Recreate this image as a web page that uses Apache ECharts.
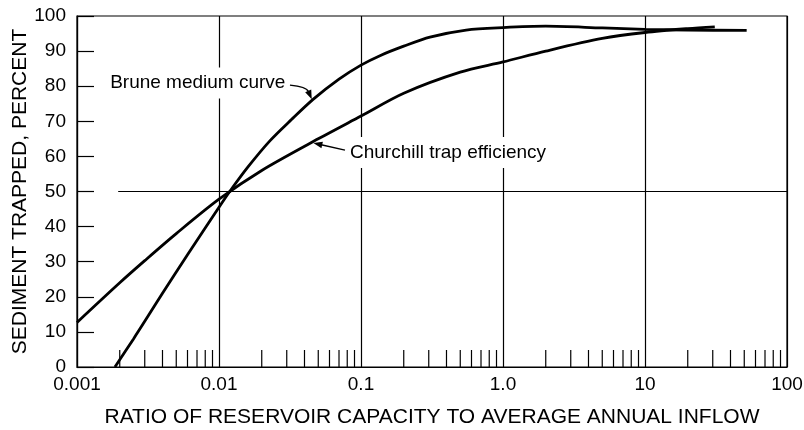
<!DOCTYPE html>
<html>
<head>
<meta charset="utf-8">
<script src="https://cdn.jsdelivr.net/npm/echarts@6/dist/echarts.min.js"></script>
<style>html,body{margin:0;padding:0;background:#fff;}#c{width:804px;height:430px;}</style>
</head>
<body>
<div id="c"></div>
<script>
// ---- data ----
const bruneX = [0.00185, 0.0025, 0.003, 0.004, 0.006, 0.01, 0.0119, 0.016, 0.0229, 0.0324, 0.0462, 0.07, 0.1, 0.136, 0.2, 0.306, 0.55, 1.0, 2.0, 5, 10, 20, 52];
const bruneY = [0, 8.0, 13.0, 21.0, 32.0, 45.5, 50, 57.0, 64.5, 70.5, 76.3, 82.0, 86.0, 88.7, 91.4, 94.0, 96.0, 96.7, 97.1, 96.6, 96.2, 96.0, 95.9];
const churchX = [0.001, 0.002, 0.003, 0.005, 0.01, 0.02, 0.05, 0.1, 0.2, 0.5, 1.0, 2, 5, 10, 20, 31];
const churchY = [12.7, 24.0, 30.3, 38.0, 47.8, 56.0, 65.0, 71.5, 78.0, 84.0, 86.9, 90.0, 93.6, 95.3, 96.4, 96.9];
const xTickLabels = ['0.001', '0.01', '0.1', '1.0', '10', '100'];
const decades = [0.001, 0.01, 0.1, 1, 10];
const minorMultipliers = [2, 3, 4, 5, 6, 7, 8, 9];
const refLine50 = [[0.00195, 50], [100, 50]];
const bruneLabel = { text: 'Brune medium curve', at: [0.00163, 80.9] };
const churchLabel = { text: 'Churchill trap efficiency', at: [0.0797, 61.1] };
// arrows: [fromX, fromY, toX, toY, bend]
const arrows = [
  [0.0316, 80.3, 0.045, 76.3, 1],
  [0.0771, 61.8, 0.0462, 63.8, 0]
];

const minorTicks = [];
decades.forEach(d => minorMultipliers.forEach(m => minorTicks.push([+(d * m).toPrecision(6), 0])));

const FONT = '"Liberation Sans", Arial, Helvetica, sans-serif';
const chart = echarts.init(document.getElementById('c'), null, { renderer: 'canvas' });

const zip = (xs, ys) => xs.map((x, i) => [x, ys[i]]);
const labelStyle = { show: true, position: 'right', distance: 0, color: '#000', fontSize: 19, fontFamily: FONT, backgroundColor: '#fff', padding: [6, 3] };

chart.setOption({
  animation: false,
  backgroundColor: '#fff',
  grid: { left: 77, right: 17, top: 16, bottom: 63, containLabel: false, outerBoundsMode: 'none',
          show: true, borderColor: '#000', borderWidth: 1.2, backgroundColor: 'transparent' },
  xAxis: {
    type: 'log', logBase: 10, min: 0.001, max: 100,
    axisLine: { show: true, lineStyle: { color: '#000', width: 1.2 } },
    axisTick: { show: false },
    splitLine: { show: true, lineStyle: { color: '#000', width: 1.2 } },
    minorTick: { show: false }, minorSplitLine: { show: false },
    axisLabel: {
      color: '#000', fontSize: 19, fontFamily: FONT, margin: 8,
      formatter: v => xTickLabels[Math.round(Math.log10(v)) + 3]
    },
    name: 'RATIO OF RESERVOIR CAPACITY TO AVERAGE ANNUAL INFLOW',
    nameLocation: 'middle', nameGap: 40, nameMoveOverlap: false,
    nameTextStyle: { color: '#000', fontSize: 21, fontFamily: FONT }
  },
  yAxis: {
    type: 'value', min: 0, max: 100, interval: 10,
    axisLine: { show: true, lineStyle: { color: '#000', width: 1.2 } },
    axisTick: { show: true, inside: true, length: 17, lineStyle: { color: '#000', width: 1.2 } },
    splitLine: { show: false },
    axisLabel: { color: '#000', fontSize: 19, fontFamily: FONT, margin: 11 },
    name: 'SEDIMENT TRAPPED, PERCENT',
    nameLocation: 'middle', nameGap: 46, nameRotate: 90, nameMoveOverlap: false,
    nameTextStyle: { color: '#000', fontSize: 21, fontFamily: FONT }
  },
  series: [
    {
      type: 'custom', name: 'minor', silent: true, clip: false, z: 3,
      data: minorTicks,
      encode: { x: 0, y: 1 },
      renderItem: (params, api) => {
        const p = api.coord([api.value(0), api.value(1)]);
        return { type: 'line', shape: { x1: p[0], y1: p[1], x2: p[0], y2: p[1] - 17 }, style: { stroke: '#000', lineWidth: 1.2 } };
      }
    },
    {
      type: 'custom', name: 'arrows', silent: true, clip: false, z: 6,
      data: arrows,
      encode: { x: [0, 2], y: [1, 3] },
      renderItem: (params, api) => {
        const a = api.coord([api.value(0), api.value(1)]);
        const b = api.coord([api.value(2), api.value(3)]);
        const bend = api.value(4);
        const mid = [(a[0] + b[0]) / 2, (a[1] + b[1]) / 2];
        const bent = [a[0] + 0.75 * (b[0] - a[0]), a[1] + 0.1 * (b[1] - a[1])];
        const cp = bend ? bent : mid;
        let dx = b[0] - cp[0], dy = b[1] - cp[1];
        const len = Math.hypot(dx, dy) || 1; dx /= len; dy /= len;
        const L = 9, W = 3.3;
        const base = [b[0] - dx * L, b[1] - dy * L];
        const head = [b, [base[0] - dy * W, base[1] + dx * W], [base[0] + dy * W, base[1] - dx * W]];
        // shorten shaft to head base
        const endShaft = [b[0] - dx * (L - 1), b[1] - dy * (L - 1)];
        return {
          type: 'group',
          children: [
            { type: 'bezierCurve', shape: { x1: a[0], y1: a[1], x2: endShaft[0], y2: endShaft[1], cpx1: cp[0], cpy1: cp[1] },
              style: { stroke: '#000', lineWidth: 1.4, fill: null } },
            { type: 'polygon', shape: { points: head }, style: { fill: '#000', stroke: null } }
          ]
        };
      }
    },
    {
      type: 'line', name: 'Brune', data: zip(bruneX, bruneY), smooth: 0.3, symbol: 'none', z: 4,
      lineStyle: { color: '#000', width: 2.8 },
      markPoint: {
        silent: true, symbol: 'rect', symbolSize: 0, label: labelStyle,
        data: [{ coord: bruneLabel.at, label: { formatter: bruneLabel.text } }]
      }
    },
    {
      type: 'line', name: 'Churchill', data: zip(churchX, churchY), smooth: 0.3, symbol: 'none', z: 4,
      lineStyle: { color: '#000', width: 2.8 },
      markPoint: {
        silent: true, symbol: 'rect', symbolSize: 0, label: labelStyle,
        data: [{ coord: churchLabel.at, label: { formatter: churchLabel.text } }]
      }
    },
    {
      type: 'line', name: 'ref50', data: [], symbol: 'none', z: 2,
      markLine: {
        silent: true, symbol: ['none', 'none'],
        label: { show: false },
        lineStyle: { color: '#000', width: 1.2, type: 'solid' },
        data: [[{ coord: refLine50[0] }, { coord: refLine50[1] }]]
      }
    }
  ]
});
</script>
</body>
</html>
